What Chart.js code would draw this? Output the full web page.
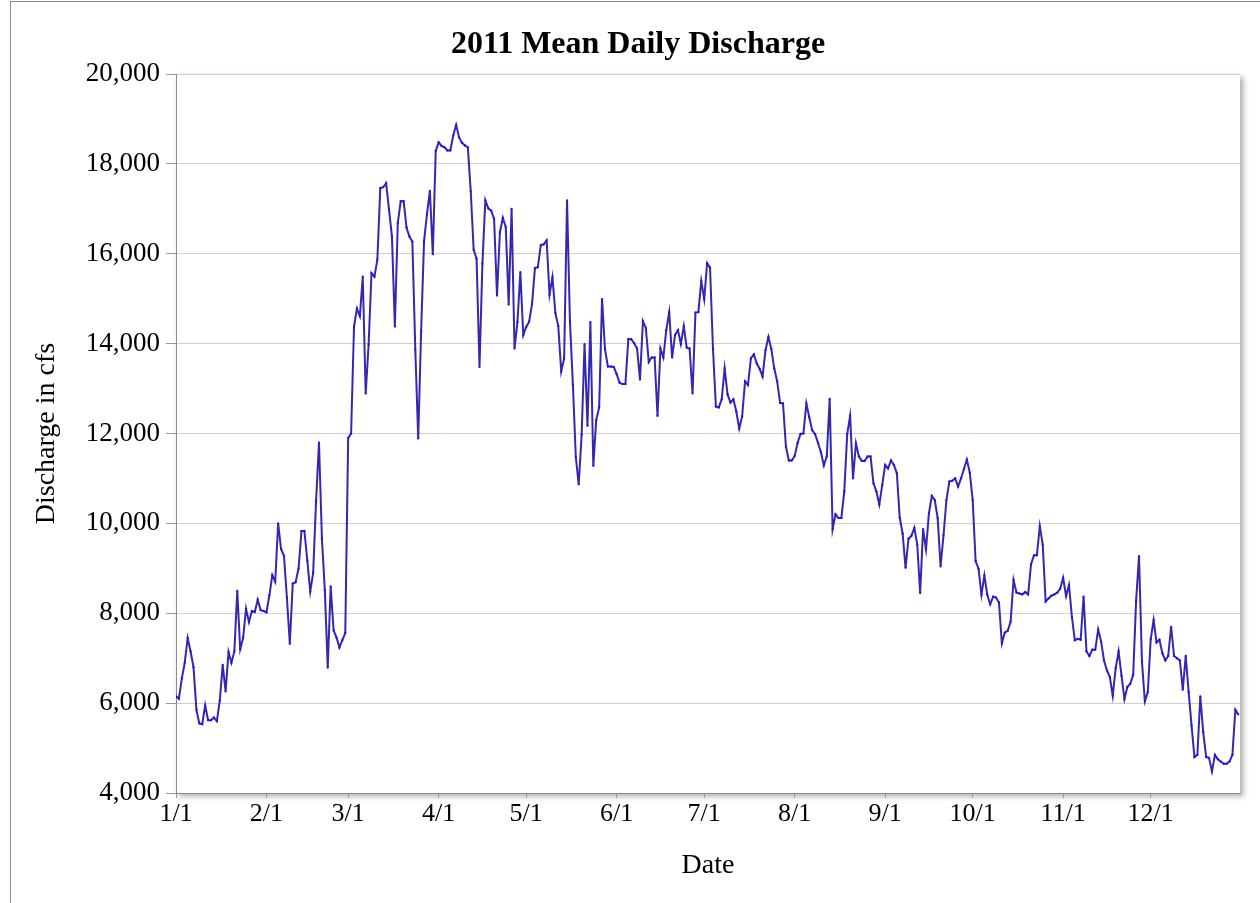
<!DOCTYPE html>
<html>
<head>
<meta charset="utf-8">
<title>2011 Mean Daily Discharge</title>
<script src="https://cdn.jsdelivr.net/npm/chart.js@4.4.1/dist/chart.umd.min.js"></script>
<style>
  html, body { margin: 0; padding: 0; background: #ffffff; }
  #wrap { position: relative; width: 1260px; height: 903px; overflow: hidden; }
  #frame { position: absolute; left: 10px; top: 1px; width: 1300px; height: 960px;
           border: 1px solid #8a8a8a; box-sizing: border-box; pointer-events: none; }
  canvas { display: block; }
</style>
</head>
<body>
<div id="wrap">
  <canvas id="chart" width="1260" height="903"></canvas>
  <div id="frame"></div>
</div>
<script>
// Month tick labels and the day-of-year each month starts on
const monthLabels = ['1/1', '2/1', '3/1', '4/1', '5/1', '6/1', '7/1', '8/1', '9/1', '10/1', '11/1', '12/1'];
const monthStartDay = [0, 31, 59, 90, 120, 151, 181, 212, 243, 273, 304, 334];

// Y axis tick values (cfs)
const yTickValues = [4000, 6000, 8000, 10000, 12000, 14000, 16000, 18000, 20000];

// Mean daily discharge (cfs), one value per day, by month
const jan = [6150, 6100, 6550, 6900, 7450, 7150, 6800, 5850, 5550, 5530, 5950, 5620, 5620, 5680, 5600, 6050,
             6850, 6260, 7140, 6900, 7150, 8500, 7200, 7450, 8100, 7800, 8050, 8030, 8300, 8070, 8050];
const feb = [8020, 8400, 8850, 8700, 10000, 9430, 9280, 8350, 7320, 8660, 8690, 9000, 9830, 9830,
             9170, 8480, 8900, 10500, 11800, 9670, 8510, 6790, 8600, 7620, 7460, 7240, 7400, 7560];
const mar = [11900, 12000, 14380, 14780, 14610, 15490, 12890, 13980, 15570, 15490, 15870, 17460, 17480, 17570, 16980, 16380,
             14380, 16680, 17170, 17170, 16580, 16380, 16270, 13870, 11890, 14280, 16280, 16880, 17400, 15990, 18290];
const apr = [18480, 18400, 18370, 18300, 18300, 18630, 18870, 18590, 18470, 18410, 18370, 17390, 16090, 15890, 13480,
             15780, 17190, 17010, 16960, 16780, 15070, 16480, 16800, 16590, 14870, 17000, 13890, 14480, 15590, 14190];
const may = [14370, 14490, 14880, 15680, 15700, 16190, 16210, 16300, 15090, 15480, 14680, 14390, 13380, 13670, 17190, 14490,
             13090, 11480, 10870, 11970, 13990, 12170, 14480, 11280, 12300, 12580, 14990, 13880, 13490, 13490, 13480];
const jun = [13320, 13130, 13100, 13100, 14100, 14100, 14010, 13890, 13200, 14500, 14350, 13590, 13690, 13690, 12390,
             13890, 13690, 14300, 14700, 13690, 14190, 14300, 13990, 14390, 13910, 13890, 12890, 14690, 14700, 15390];
const jul = [14990, 15790, 15690, 13890, 12600, 12580, 12760, 13450, 12870, 12690, 12760, 12490, 12110, 12380, 13160, 13080,
             13670, 13760, 13560, 13440, 13270, 13850, 14150, 13880, 13450, 13160, 12680, 12670, 11710, 11400, 11400];
const aug = [11500, 11790, 11990, 12000, 12670, 12360, 12070, 11985, 11790, 11580, 11290, 11490, 12770, 9870, 10200, 10120,
             10120, 10710, 11985, 12390, 11000, 11780, 11490, 11390, 11390, 11490, 11490, 10890, 10710, 10420, 10850];
const sep = [11300, 11220, 11400, 11300, 11120, 10130, 9770, 9010, 9660, 9720, 9900, 9530, 8450, 9870, 9420,
             10220, 10610, 10520, 10120, 9040, 9730, 10520, 10930, 10950, 11000, 10820, 11000, 11210, 11420, 11130];
const oct = [10520, 9160, 8990, 8410, 8840, 8410, 8200, 8370, 8350, 8240, 7330, 7570, 7610, 7810, 8740, 8460,
             8440, 8420, 8470, 8420, 9090, 9290, 9290, 9940, 9530, 8260, 8330, 8390, 8420, 8460, 8550];
const nov = [8790, 8380, 8630, 7920, 7400, 7430, 7410, 8370, 7150, 7050, 7190, 7190, 7640, 7370, 6950,
             6730, 6580, 6160, 6780, 7150, 6610, 6090, 6360, 6430, 6630, 8280, 9270, 6930, 6040, 6240];
const dec = [7420, 7850, 7350, 7410, 7110, 6950, 7050, 7700, 7050, 7000, 6950, 6300, 7050, 6250, 5500, 4800,
             4850, 6150, 5350, 4800, 4780, 4480, 4850, 4750, 4700, 4650, 4650, 4700, 4850, 5850, 5750];

const discharge = [].concat(jan, feb, mar, apr, may, jun, jul, aug, sep, oct, nov, dec);
// x = day of year (0 = Jan 1)
const points = discharge.map((v, day) => ({ x: day, y: v }));

const serif = "'Liberation Serif', 'Times New Roman', serif";

// Soft drop shadow behind the plotting area
const plotShadow = {
  id: 'plotShadow',
  beforeDraw(chart) {
    const { ctx, chartArea: a } = chart;
    ctx.save();
    ctx.shadowColor = 'rgba(0,0,0,0.35)';
    ctx.shadowBlur = 6;
    ctx.shadowOffsetX = 3;
    ctx.shadowOffsetY = 3;
    ctx.fillStyle = '#ffffff';
    ctx.fillRect(a.left, a.top, a.right - a.left, a.bottom - a.top);
    ctx.restore();
  }
};

new Chart(document.getElementById('chart'), {
  type: 'line',
  data: {
    datasets: [{
      data: points,
      borderColor: '#3328b0',
      borderWidth: 2,
      pointRadius: 1.1,
      pointBorderWidth: 0,
      pointBackgroundColor: '#1010ff',
      tension: 0,
      fill: false
    }]
  },
  options: {
    responsive: false,
    animation: false,
    devicePixelRatio: 1,
    layout: { padding: { left: 36, right: 20, top: 0, bottom: 0 } },
    plugins: {
      legend: { display: false },
      tooltip: { enabled: false },
      title: {
        display: true,
        text: '2011 Mean Daily Discharge',
        color: '#000000',
        font: { family: serif, size: 32, weight: 'bold', lineHeight: 1.2 },
        padding: { top: 26, bottom: 9.6 }
      }
    },
    scales: {
      x: {
        type: 'linear',
        min: 0,
        max: 364.6,
        afterBuildTicks(axis) {
          axis.ticks = monthStartDay.map(v => ({ value: v }));
        },
        afterFit(scale) { scale.height = 110; },
        ticks: {
          autoSkip: false,
          maxRotation: 0,
          padding: 3,
          color: '#000000',
          font: { family: serif, size: 26, lineHeight: 1 },
          callback(value) {
            const i = monthStartDay.indexOf(value);
            return i >= 0 ? monthLabels[i] : '';
          }
        },
        grid: {
          drawOnChartArea: false,
          drawTicks: true,
          tickLength: 5,
          color: '#999999'
        },
        border: { display: true, color: '#8c8c8c', width: 1 },
        title: {
          display: true,
          text: 'Date',
          color: '#000000',
          font: { family: serif, size: 28, lineHeight: 1.2 },
          padding: { top: 0, bottom: 21 }
        }
      },
      y: {
        min: 4000,
        max: 20000,
        afterBuildTicks(axis) {
          axis.ticks = yTickValues.map(v => ({ value: v }));
        },
        afterFit(scale) { scale.width = 140; },
        ticks: {
          padding: 6,
          color: '#000000',
          font: { family: serif, size: 27 },
          callback(value) { return value.toLocaleString('en-US'); }
        },
        grid: {
          color: '#cfcfcf',
          lineWidth: 1,
          tickLength: 10,
          tickColor: '#999999'
        },
        border: { display: true, color: '#8c8c8c', width: 1 },
        title: {
          display: true,
          text: 'Discharge in cfs',
          color: '#000000',
          font: { family: serif, size: 28, lineHeight: 0.786 },
          padding: { top: 0, bottom: 0 }
        }
      }
    }
  },
  plugins: [plotShadow]
});
</script>
</body>
</html>
